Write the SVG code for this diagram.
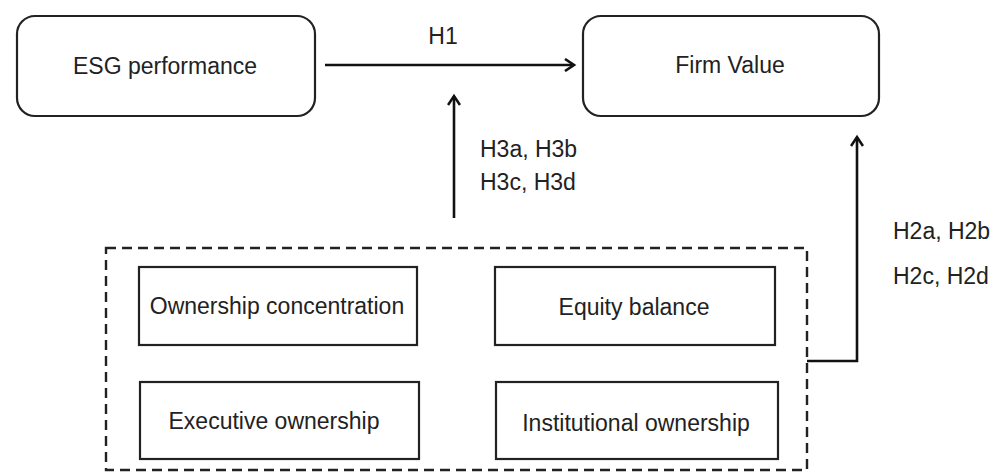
<svg xmlns="http://www.w3.org/2000/svg" width="1002" height="476" viewBox="0 0 1002 476">
<defs>
<style>
.t{font-family:"Liberation Sans",Arial,Helvetica,sans-serif;font-size:23px;fill:#222}
.box{fill:#fff;stroke:#222;stroke-width:2.2}
.c{fill:none;stroke:#111;stroke-width:2.6}
.dash{fill:none;stroke:#222;stroke-width:2.4;stroke-dasharray:10 6}
</style>
<marker id="ah" markerWidth="14" markerHeight="14" refX="11" refY="7" orient="auto" markerUnits="userSpaceOnUse">
<path d="M2,1 L11,7 L2,13" fill="none" stroke="#111" stroke-width="2.6"/>
</marker>
</defs>
<rect width="1002" height="476" fill="#fff"/>
<g id="esg">
<rect class="box" x="17" y="16" width="298" height="100" rx="18"/>
<text class="t" x="165" y="74" text-anchor="middle">ESG performance</text>
</g>
<g id="firm">
<rect class="box" x="583" y="16" width="296" height="100" rx="18"/>
<text class="t" x="730" y="73" text-anchor="middle">Firm Value</text>
</g>
<g id="group">
<rect class="dash" x="106" y="248" width="701" height="222"/>
</g>
<g id="oc">
<rect class="box" x="139" y="267" width="278" height="78"/>
<text class="t" x="277" y="314" text-anchor="middle">Ownership concentration</text>
</g>
<g id="eb">
<rect class="box" x="495" y="267" width="280" height="78"/>
<text class="t" x="634" y="315" text-anchor="middle">Equity balance</text>
</g>
<g id="eo">
<rect class="box" x="140" y="382" width="279" height="77"/>
<text class="t" x="274" y="429" text-anchor="middle">Executive ownership</text>
</g>
<g id="io">
<rect class="box" x="496" y="382" width="282" height="77"/>
<text class="t" x="636" y="431" text-anchor="middle">Institutional ownership</text>
</g>
<g id="connectors">
<line class="c" x1="325" y1="65" x2="574" y2="65" marker-end="url(#ah)"/>
<line class="c" x1="454" y1="218" x2="454" y2="96" marker-end="url(#ah)"/>
<polyline class="c" points="807,361 857,361 857,137" marker-end="url(#ah)"/>
</g>
<g id="labels">
<text class="t" x="443" y="44" text-anchor="middle">H1</text>
<text class="t" x="480" y="157">H3a, H3b</text>
<text class="t" x="480" y="190">H3c, H3d</text>
<text class="t" x="893" y="239">H2a, H2b</text>
<text class="t" x="893" y="284">H2c, H2d</text>
</g>
</svg>
